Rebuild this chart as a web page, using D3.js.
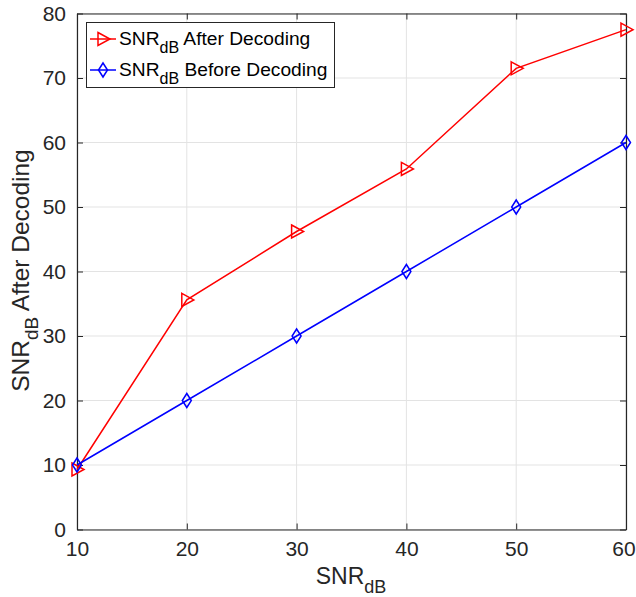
<!DOCTYPE html>
<html><head><meta charset="utf-8">
<script src="https://cdn.jsdelivr.net/npm/d3@7"></script>
<style>body{margin:0;background:#fff}svg{display:block}</style>
</head><body>
<svg id="c" width="636" height="597"></svg>
<script>
const xValues = [10, 20, 30, 40, 50, 60];
const afterDecoding = [9.3, 35.6, 46.2, 55.9, 71.5, 77.5];
const beforeDecoding = [10, 20, 30, 40, 50, 60];
const xTicks = [10, 20, 30, 40, 50, 60];
const yTicks = [0, 10, 20, 30, 40, 50, 60, 70, 80];
const seriesNames = ["After Decoding", "Before Decoding"];
const seriesColors = ["#ff0000", "#0000ff"];

const font = "'Liberation Sans', Arial, Helvetica, sans-serif";
const svg = d3.select("#c");
const L = 77, R = 626, T = 13.5, B = 529.5;
const x = d3.scaleLinear().domain([10, 60]).range([L, R]);
const y = d3.scaleLinear().domain([0, 80]).range([B, T]);

// grid
const g = svg.append("g");
g.selectAll(".gx").data(xTicks).join("line")
  .attr("x1", d => x(d)).attr("x2", d => x(d)).attr("y1", T).attr("y2", B)
  .attr("stroke", "#e3e3e3").attr("stroke-width", 1);
g.selectAll(".gy").data(yTicks).join("line")
  .attr("x1", L).attr("x2", R).attr("y1", d => y(d)).attr("y2", d => y(d))
  .attr("stroke", "#e3e3e3").attr("stroke-width", 1);

// axes
const axColor = "#262626";
const xAxis = d3.axisBottom(x).tickValues(xTicks).tickSizeInner(-6).tickSizeOuter(0).tickPadding(12);
const yAxis = d3.axisLeft(y).tickValues(yTicks).tickSizeInner(-6).tickSizeOuter(0).tickPadding(11);
const xa = svg.append("g").attr("transform", `translate(0,${B})`).call(xAxis);
const ya = svg.append("g").attr("transform", `translate(${L},0)`).call(yAxis);
const xTop = svg.append("g").attr("transform", `translate(0,${T})`).call(d3.axisTop(x).tickValues(xTicks).tickSizeInner(-6).tickSizeOuter(0).tickFormat(""));
const yRight = svg.append("g").attr("transform", `translate(${R},0)`).call(d3.axisRight(y).tickValues(yTicks).tickSizeInner(-6).tickSizeOuter(0).tickFormat(""));
[xa, ya, xTop, yRight].forEach(a => {
  a.attr("font-size", null).attr("font-family", null);
  a.select(".domain").attr("stroke", axColor).attr("stroke-width", 1.2);
  a.selectAll(".tick line").attr("stroke", axColor).attr("stroke-width", 1);
  a.selectAll(".tick text").attr("fill", axColor).attr("font-family", font).attr("font-size", 21);
});
// keep last x tick label inside the picture, as in the reference
xa.selectAll(".tick text").filter(d => d === 60).attr("dx", -2.5);

// lines
const line = d3.line().x(d => x(d[0])).y(d => y(d[1]));
const data = [afterDecoding, beforeDecoding].map(vals => xValues.map((v, i) => [v, vals[i]]));
const tri = "M-5,-6.5 L7,0 L-5,6.5 Z";
const dia = "M0,-7 L4.5,0 L0,7 L-4.5,0 Z";
const shapes = [tri, dia];
data.forEach((pts, k) => {
  svg.append("path").datum(pts).attr("d", line).attr("fill", "none")
    .attr("stroke", seriesColors[k]).attr("stroke-width", 1.5);
  svg.selectAll(null).data(pts).join("path")
    .attr("d", shapes[k]).attr("transform", d => `translate(${x(d[0])},${y(d[1])})`)
    .attr("fill", "none").attr("stroke", seriesColors[k]).attr("stroke-width", 1.5);
});

// legend
const lg = svg.append("g");
lg.append("rect").attr("x", 86.5).attr("y", 22.5).attr("width", 248).attr("height", 65)
  .attr("fill", "#fff").attr("stroke", axColor).attr("stroke-width", 1);
seriesNames.forEach((name, k) => {
  const cy = 39 + k * 31;
  lg.append("line").attr("x1", 90).attr("x2", 116).attr("y1", cy).attr("y2", cy)
    .attr("stroke", seriesColors[k]).attr("stroke-width", 1.5);
  lg.append("path").attr("d", shapes[k]).attr("transform", `translate(103,${cy})`)
    .attr("fill", "none").attr("stroke", seriesColors[k]).attr("stroke-width", 1.5);
  const t = lg.append("text").attr("x", 119).attr("y", cy + 6)
    .attr("font-family", font).attr("font-size", 19.2).attr("fill", "#000");
  t.append("tspan").text("SNR");
  t.append("tspan").attr("dy", 8).attr("font-size", 16).text("dB");
  t.append("tspan").attr("dy", -8).text(" " + name);
});

// axis labels
const xl = svg.append("text").attr("x", 351).attr("y", 584).attr("text-anchor", "middle")
  .attr("font-family", font).attr("font-size", 23).attr("fill", axColor);
xl.append("tspan").text("SNR");
xl.append("tspan").attr("dy", 9).attr("font-size", 18).text("dB");

const yl = svg.append("text").attr("transform", `translate(29,${(T + B) / 2 - 1}) rotate(-90)`).attr("text-anchor", "middle")
  .attr("font-family", font).attr("font-size", 24.5).attr("fill", axColor);
yl.append("tspan").text("SNR");
yl.append("tspan").attr("dy", 9).attr("font-size", 19).text("dB");
yl.append("tspan").attr("dy", -9).text(" After Decoding");
</script>
</body></html>
